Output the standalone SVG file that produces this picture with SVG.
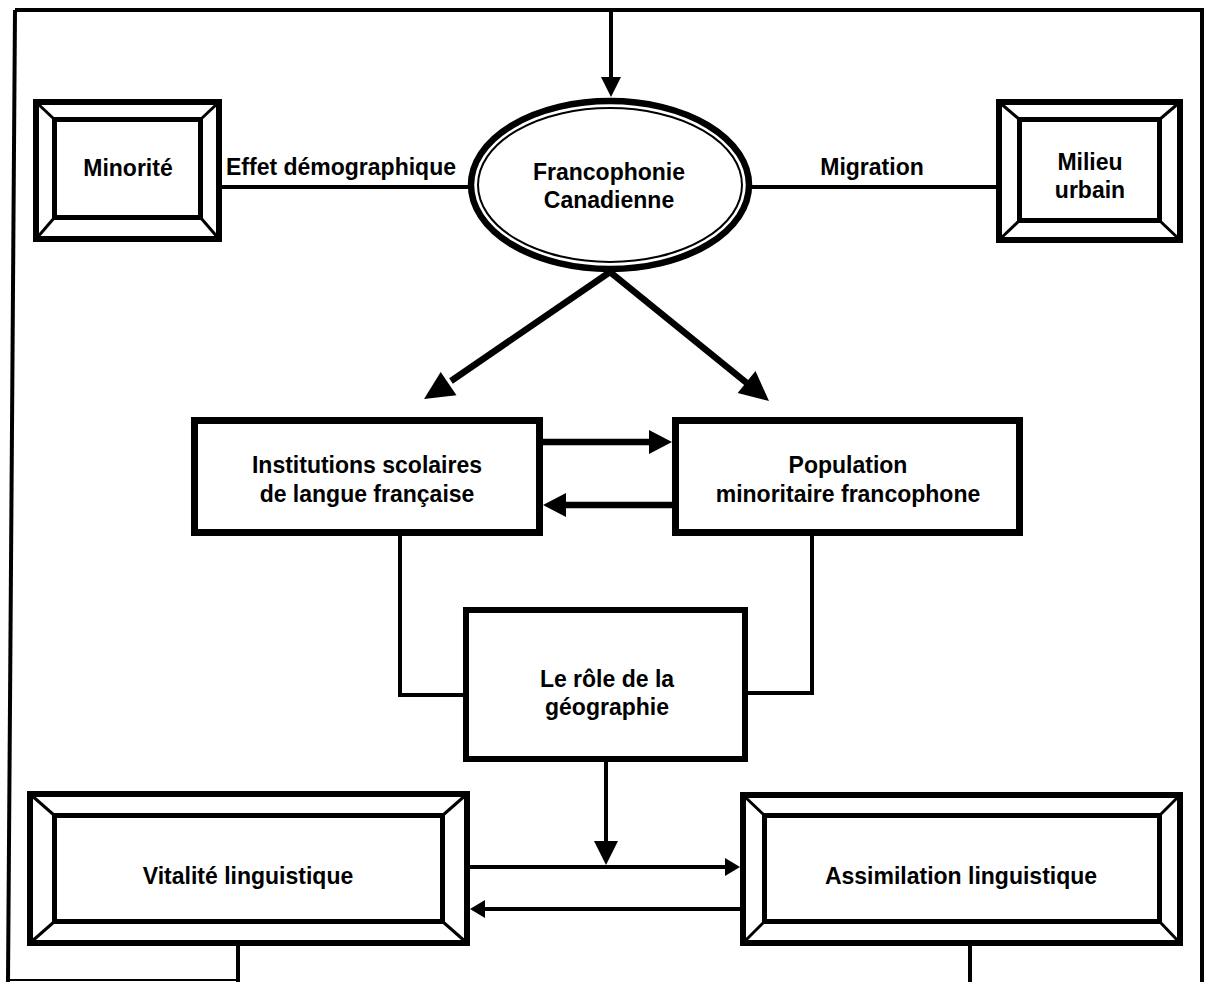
<svg xmlns="http://www.w3.org/2000/svg" width="1206" height="982" viewBox="0 0 1206 982">
<style>
  .t { font-family: "Liberation Sans", Arial, sans-serif; font-weight: bold; font-size: 23px; fill: #000; text-anchor: middle; }
  .outer { fill: #fff; stroke: #000; stroke-width: 6; }
  .inner { fill: none; stroke: #000; stroke-width: 5; }
  .bev { stroke: #000; stroke-width: 3; }
  .box { fill: #fff; stroke: #000; stroke-width: 7; }
  .ln { fill: none; stroke: #000; stroke-width: 4; }
  .thick { fill: none; stroke: #000; stroke-width: 6.5; }
  .head { fill: #000; stroke: none; }
</style>
<rect width="1206" height="982" fill="#fff"/>

<g id="frame">
  <path d="M15,10 L1202,10 L1202,982" class="ln"/>
  <path d="M15,10 L8,982" class="ln"/>
  <path d="M10,980 L238,980" fill="none" stroke="#000" stroke-width="2"/>
</g>

<g id="connectors">
  <line x1="611" y1="10" x2="611" y2="80" class="ln" stroke-width="4.5"/>
  <polygon class="head" points="601,77 621,77 611,97"/>
  <line x1="222" y1="187" x2="470" y2="187" class="ln"/>
  <line x1="752" y1="187" x2="996" y2="187" class="ln"/>
  <line x1="610" y1="272" x2="451" y2="381" class="thick"/>
  <polygon class="head" points="424,399 456.5,395.2 440.7,371.9"/>
  <line x1="610" y1="272" x2="748" y2="384" class="thick"/>
  <polygon class="head" points="769,401 737.6,393.0 755.5,371.0"/>
  <line x1="543" y1="442" x2="652" y2="442" class="thick"/>
  <polygon class="head" points="649,430 649,454 672,442"/>
  <line x1="672" y1="505" x2="563" y2="505" class="thick"/>
  <polygon class="head" points="566,493 566,517 543,505"/>
  <polyline points="400,536 400,695 465,695" class="ln"/>
  <polyline points="812,536 812,693 748,693" class="ln"/>
  <line x1="606" y1="762" x2="606" y2="844" class="ln" stroke-width="7"/>
  <polygon class="head" points="594,841 618,841 606,865"/>
  <line x1="470" y1="867" x2="728" y2="867" class="ln"/>
  <polygon class="head" points="725,858 725,876 740,867"/>
  <line x1="740" y1="909" x2="482" y2="909" class="ln"/>
  <polygon class="head" points="485,900 485,918 470,909"/>
  <line x1="238" y1="946" x2="238" y2="982" class="ln"/>
  <line x1="970" y1="946" x2="970" y2="982" class="ln"/>
</g>

<g id="minorite">
  <rect x="36" y="102" width="183" height="137" class="outer"/>
  <rect x="54.5" y="119.5" width="146" height="98" class="inner"/>
  <line x1="36" y1="102" x2="54.5" y2="119.5" class="bev"/>
  <line x1="219" y1="102" x2="200.5" y2="119.5" class="bev"/>
  <line x1="36" y1="239" x2="54.5" y2="217.5" class="bev"/>
  <line x1="219" y1="239" x2="200.5" y2="217.5" class="bev"/>
  <text x="128" y="176" class="t">Minorité</text>
</g>

<text x="341" y="175" class="t">Effet démographique</text>
<text x="872" y="175" class="t">Migration</text>

<g id="francophonie">
  <ellipse cx="610" cy="185" rx="139" ry="84" fill="#fff" stroke="#000" stroke-width="6.5"/>
  <ellipse cx="610" cy="185" rx="132" ry="77" fill="none" stroke="#000" stroke-width="2"/>
  <text x="609" y="180" class="t">Francophonie</text>
  <text x="609" y="208" class="t">Canadienne</text>
</g>

<g id="milieu">
  <rect x="999" y="102" width="181" height="138" class="outer"/>
  <rect x="1019.5" y="119.5" width="140" height="101" class="inner"/>
  <line x1="999" y1="102" x2="1019.5" y2="119.5" class="bev"/>
  <line x1="1180" y1="102" x2="1159.5" y2="119.5" class="bev"/>
  <line x1="999" y1="240" x2="1019.5" y2="220.5" class="bev"/>
  <line x1="1180" y1="240" x2="1159.5" y2="220.5" class="bev"/>
  <text x="1090" y="170" class="t">Milieu</text>
  <text x="1090" y="198" class="t">urbain</text>
</g>

<g id="institutions">
  <rect x="194.5" y="420.5" width="345" height="112" class="box"/>
  <text x="367" y="473" class="t">Institutions scolaires</text>
  <text x="367" y="502" class="t">de langue française</text>
</g>

<g id="population">
  <rect x="675.5" y="420.5" width="344" height="112" class="box"/>
  <text x="848" y="473" class="t">Population</text>
  <text x="848" y="502" class="t">minoritaire francophone</text>
</g>

<g id="geographie">
  <rect x="466" y="610" width="279" height="149" class="outer" stroke-width="7"/>
  <text x="607" y="687" class="t">Le rôle de la</text>
  <text x="607" y="715" class="t">géographie</text>
</g>

<g id="vitalite">
  <rect x="30" y="794" width="437" height="149" class="outer"/>
  <rect x="54.5" y="815.5" width="388" height="106" class="inner"/>
  <line x1="30" y1="794" x2="54.5" y2="815.5" class="bev"/>
  <line x1="467" y1="794" x2="442.5" y2="815.5" class="bev"/>
  <line x1="30" y1="943" x2="54.5" y2="921.5" class="bev"/>
  <line x1="467" y1="943" x2="442.5" y2="921.5" class="bev"/>
  <text x="248" y="884" class="t">Vitalité linguistique</text>
</g>

<g id="assimilation">
  <rect x="743" y="795" width="437" height="148" class="outer"/>
  <rect x="764.5" y="815.5" width="395" height="106" class="inner"/>
  <line x1="743" y1="795" x2="764.5" y2="815.5" class="bev"/>
  <line x1="1180" y1="795" x2="1159.5" y2="815.5" class="bev"/>
  <line x1="743" y1="943" x2="764.5" y2="921.5" class="bev"/>
  <line x1="1180" y1="943" x2="1159.5" y2="921.5" class="bev"/>
  <text x="961" y="884" class="t">Assimilation linguistique</text>
</g>
</svg>
